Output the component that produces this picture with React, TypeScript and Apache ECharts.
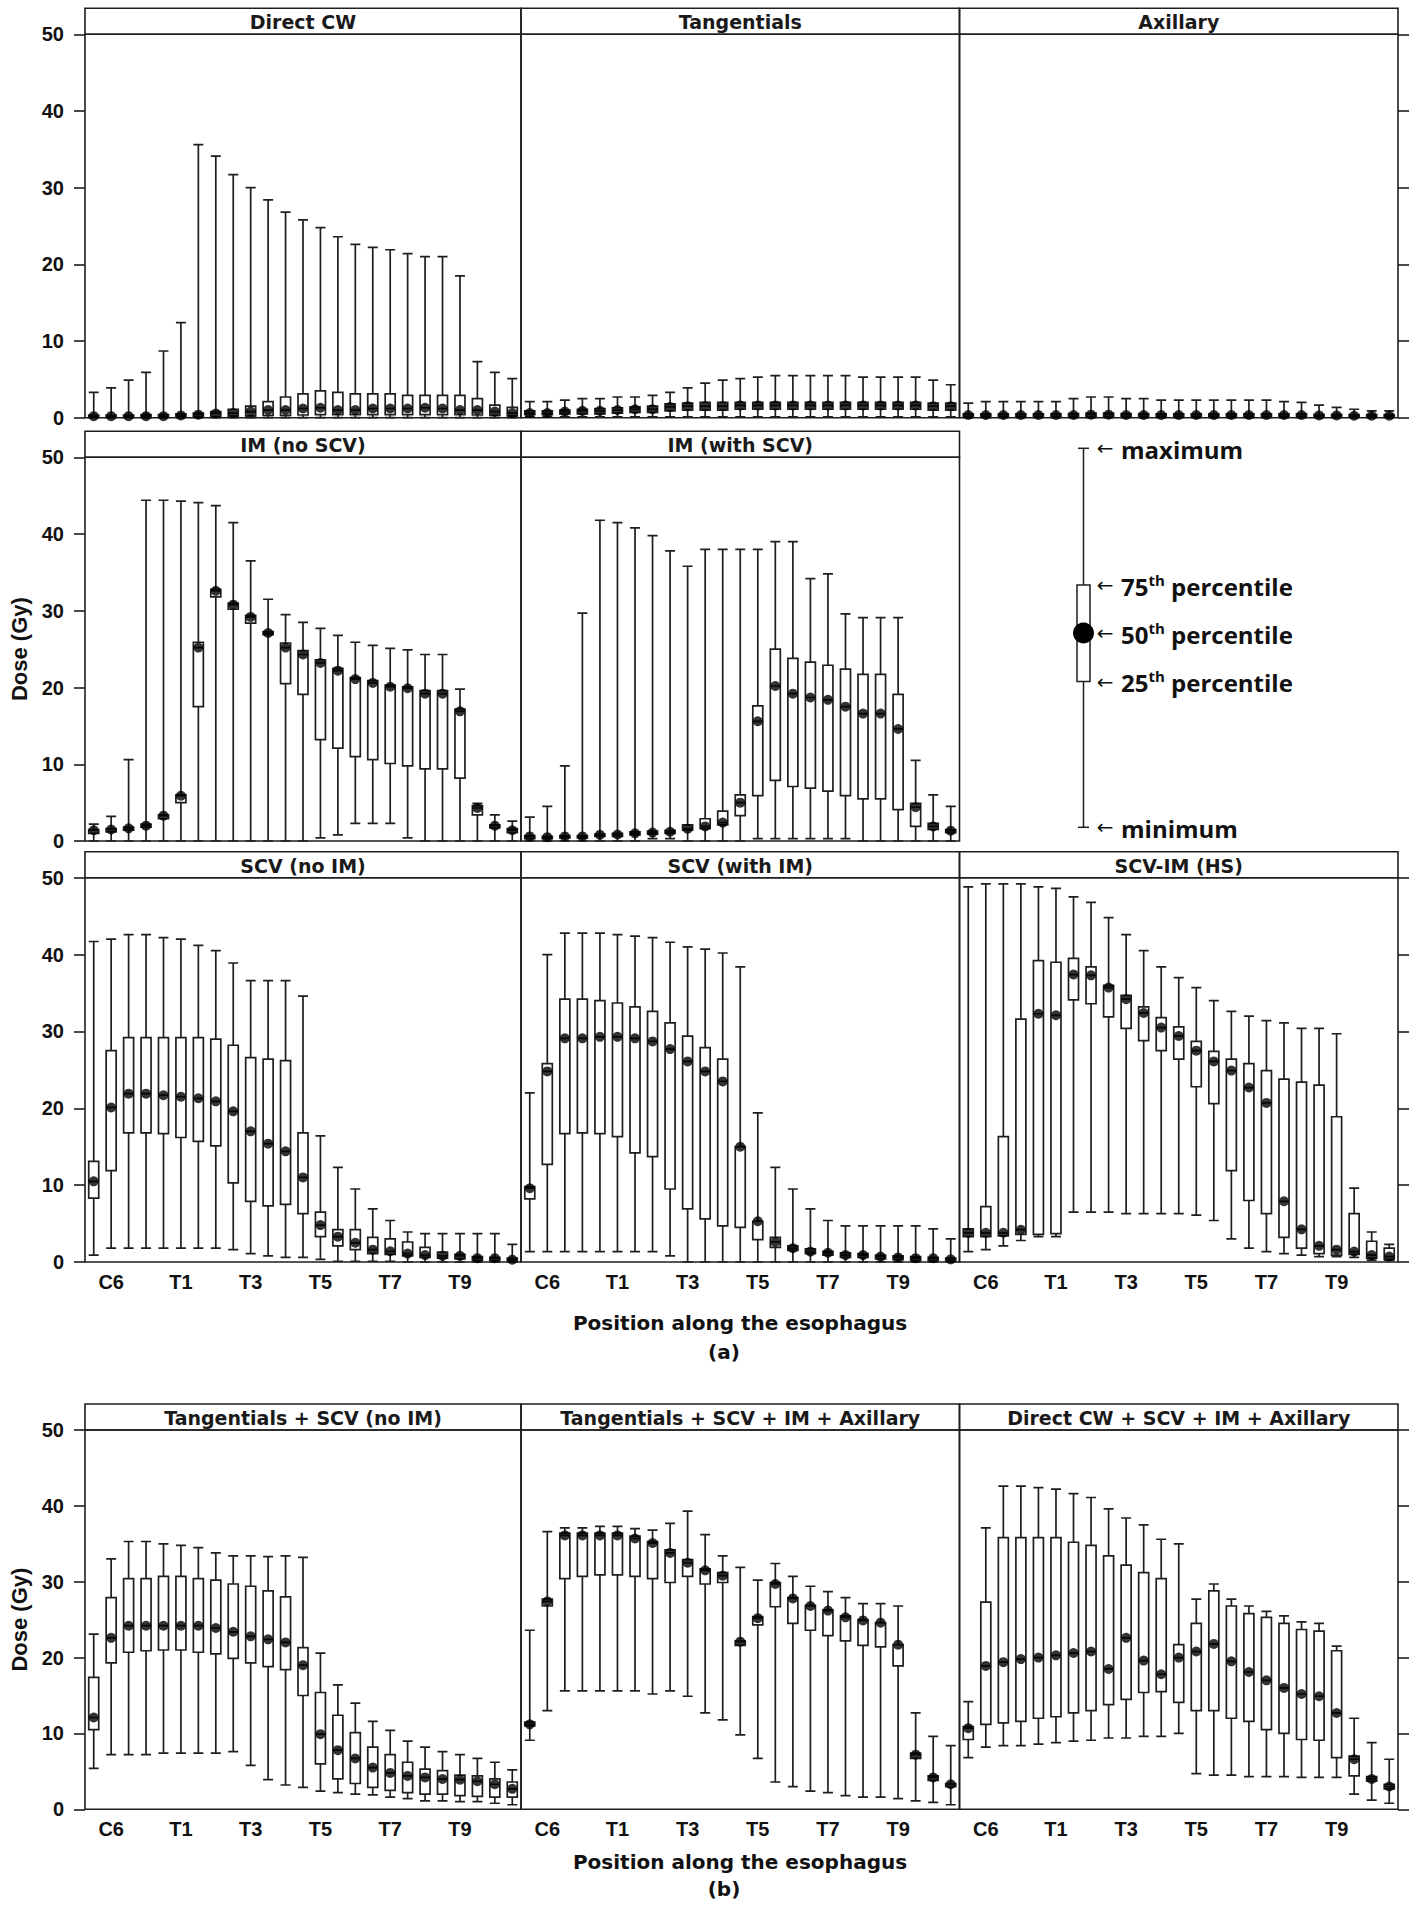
import React, { useEffect, useRef } from 'react';
import * as echarts from 'echarts';

// Positions along the esophagus (half-vertebra steps); only some are labelled
const positions = ['C5/C6','C6','C6/C7','C7','C7/T1','T1','T1/T2','T2','T2/T3','T3','T3/T4','T4','T4/T5','T5','T5/T6','T6','T6/T7','T7','T7/T8','T8','T8/T9','T9','T9/T10','T10','T10/T11'];
const labelledPositions = ['C6','T1','T3','T5','T7','T9'];

// each entry: [minimum, 25th, 50th, 75th, maximum] in Gy
const directCW = [
  [0,0.05,0.2,0.35,3.3],[0,0.05,0.2,0.35,3.9],[0,0.05,0.2,0.35,4.9],[0,0.05,0.2,0.4,5.9],[0,0.05,0.2,0.4,8.7],
  [0,0.1,0.3,0.5,12.4],[0,0.1,0.4,0.6,35.6],[0,0.15,0.55,0.8,34.1],[0,0.2,0.6,1.1,31.7],[0,0.25,0.8,1.5,30.0],
  [0,0.3,1.0,2.1,28.4],[0,0.3,1.0,2.7,26.8],[0,0.35,1.2,3.1,25.8],[0,0.4,1.3,3.5,24.8],[0,0.4,1.0,3.3,23.6],
  [0,0.4,1.0,3.1,22.6],[0,0.4,1.2,3.1,22.2],[0,0.4,1.2,3.1,21.9],[0,0.4,1.2,2.9,21.4],[0,0.4,1.3,2.9,21.0],
  [0,0.4,1.2,2.9,21.0],[0,0.4,1.0,2.9,18.5],[0,0.35,1.0,2.5,7.3],[0,0.3,0.8,1.65,5.9],[0,0.25,0.6,1.35,5.1],
];
const tangentials = [
  [0.1,0.4,0.6,0.9,2.1],[0.1,0.4,0.6,0.9,2.1],[0.1,0.5,0.8,1.0,2.3],[0.1,0.5,0.9,1.1,2.5],[0.1,0.5,0.9,1.2,2.5],
  [0.1,0.6,1.0,1.3,2.7],[0.1,0.7,1.1,1.4,2.7],[0.1,0.7,1.1,1.5,2.9],[0.1,0.9,1.4,1.8,3.3],[0.1,1.0,1.5,1.9,3.9],
  [0.1,1.0,1.5,2.0,4.5],[0.1,1.0,1.5,2.0,4.9],[0.1,1.1,1.6,2.0,5.1],[0.1,1.1,1.6,2.0,5.3],[0.1,1.1,1.6,2.0,5.5],
  [0.1,1.1,1.6,2.0,5.5],[0.1,1.1,1.6,2.0,5.5],[0.1,1.1,1.6,2.0,5.5],[0.1,1.1,1.6,2.0,5.5],[0.1,1.1,1.6,2.0,5.3],
  [0.1,1.1,1.6,2.0,5.3],[0.1,1.1,1.6,2.0,5.3],[0.1,1.1,1.6,2.0,5.3],[0.1,1.0,1.5,1.9,4.9],[0.1,1.0,1.5,1.9,4.3],
];
const axillary = [
  [0,0.1,0.35,0.5,1.9],[0,0.1,0.35,0.5,2.1],[0,0.1,0.35,0.5,2.1],[0,0.1,0.35,0.5,2.1],[0,0.1,0.35,0.5,2.1],
  [0,0.1,0.35,0.5,2.1],[0,0.1,0.35,0.55,2.5],[0,0.1,0.4,0.6,2.7],[0,0.1,0.4,0.6,2.7],[0,0.1,0.35,0.55,2.5],
  [0,0.1,0.35,0.55,2.5],[0,0.1,0.35,0.5,2.3],[0,0.1,0.35,0.5,2.3],[0,0.1,0.35,0.5,2.3],[0,0.1,0.35,0.5,2.3],
  [0,0.1,0.35,0.5,2.3],[0,0.1,0.35,0.5,2.3],[0,0.1,0.35,0.5,2.3],[0,0.1,0.35,0.5,2.1],[0,0.1,0.35,0.5,2.0],
  [0,0.1,0.3,0.45,1.65],[0,0.1,0.3,0.45,1.35],[0,0.1,0.25,0.4,1.1],[0,0.1,0.25,0.4,0.9],[0,0.1,0.25,0.4,0.9],
];
const imNoScv = [
  [0,1.0,1.4,1.5,2.2],[0,1.2,1.5,1.6,3.2],[0,1.4,1.65,1.8,10.6],[0,1.8,2.0,2.2,44.4],[0,2.9,3.3,3.4,44.4],
  [0,5.0,5.9,6.0,44.3],[0,17.5,25.2,25.9,44.1],[0,31.8,32.6,32.8,43.7],[0,30.2,30.8,31.0,41.5],[0,28.4,29.2,29.4,36.5],
  [0,26.9,27.1,27.3,31.5],[0,20.5,25.2,25.8,29.5],[0,19.1,24.3,24.8,28.5],[0.4,13.2,23.2,23.6,27.7],[0.8,12.1,22.2,22.5,26.8],
  [2.3,11.0,21.1,21.3,25.9],[2.3,10.6,20.6,20.9,25.5],[2.3,10.1,20.1,20.3,25.1],[0.4,9.8,19.9,20.1,24.9],[0,9.4,19.2,19.6,24.3],
  [0,9.4,19.2,19.6,24.3],[0,8.2,16.9,17.2,19.8],[0,3.4,4.3,4.6,4.9],[0,1.7,2.0,2.1,3.4],[0,1.1,1.4,1.6,2.6],
];
const imWithScv = [
  [0,0.3,0.6,0.7,3.1],[0,0.3,0.5,0.6,4.5],[0,0.4,0.6,0.7,9.8],[0,0.4,0.6,0.7,29.7],[0,0.6,0.8,0.9,41.8],
  [0,0.6,0.85,1.0,41.5],[0,0.8,1.0,1.2,40.8],[0.3,0.9,1.1,1.3,39.8],[0.3,1.0,1.2,1.4,37.8],[0,1.4,1.6,2.1,35.8],
  [0,1.6,1.9,2.9,38.0],[0,2.1,2.4,3.9,38.0],[0,3.3,5.0,6.0,38.0],[0.3,5.9,15.6,17.6,38.0],[0.3,7.9,20.2,25.0,39.0],
  [0.3,7.1,19.2,23.8,39.0],[0.3,6.9,18.7,23.3,34.2],[0.3,6.5,18.4,22.9,34.8],[0.3,5.9,17.5,22.4,29.6],[0,5.5,16.6,21.7,29.1],
  [0,5.5,16.6,21.7,29.1],[0,4.1,14.6,19.1,29.1],[0,1.9,4.4,4.9,10.5],[0,1.5,1.9,2.3,6.0],[0,1.1,1.35,1.5,4.5],
];
const scvNoIm = [
  [0.9,8.3,10.5,13.1,41.7],[1.8,11.9,20.1,27.5,42.0],[1.8,16.8,21.9,29.2,42.6],[1.8,16.8,21.9,29.2,42.6],[1.8,16.7,21.7,29.2,42.2],
  [1.8,16.2,21.5,29.2,42.0],[1.8,15.7,21.3,29.2,41.2],[1.8,15.1,20.9,29.0,40.5],[1.6,10.3,19.6,28.2,38.9],[1.1,7.9,17.0,26.6,36.6],
  [0.8,7.3,15.4,26.4,36.6],[0.6,7.5,14.4,26.2,36.6],[0.6,6.3,11.0,16.8,34.6],[0.35,3.3,4.8,6.5,16.4],[0.1,2.1,3.3,4.2,12.3],
  [0.1,1.6,2.5,4.2,9.5],[0.1,1.1,1.6,3.2,6.9],[0.1,1.0,1.4,3.0,5.4],[0,0.8,1.1,2.6,3.9],[0,0.6,0.9,1.9,3.7],
  [0,0.5,0.8,1.3,3.7],[0,0.4,0.8,1.0,3.7],[0,0.2,0.5,0.7,3.7],[0,0.2,0.5,0.6,3.7],[0,0.1,0.3,0.5,2.3],
];
const scvWithIm = [
  [1.35,8.2,9.6,9.8,22.0],[1.35,12.7,24.8,25.8,40.0],[1.35,16.7,29.1,34.2,42.8],[1.35,16.8,29.1,34.2,42.8],[1.35,16.7,29.3,34.0,42.8],
  [1.35,16.3,29.3,33.7,42.6],[1.35,14.2,29.1,33.2,42.4],[1.35,13.7,28.7,32.6,42.2],[0.8,9.5,27.7,31.1,41.6],[0,6.9,26.1,29.4,41.0],
  [0,5.6,24.8,27.9,40.7],[0,4.7,23.5,26.4,40.2],[0,4.5,15.0,15.0,38.4],[0,2.9,5.3,5.3,19.4],[0,1.9,2.6,3.2,12.3],
  [0,1.5,1.8,2.1,9.5],[0,1.1,1.35,1.7,6.9],[0,0.9,1.2,1.4,5.4],[0,0.6,0.9,1.2,4.7],[0,0.6,0.9,1.1,4.7],
  [0,0.4,0.7,0.9,4.7],[0,0.3,0.6,0.8,4.7],[0,0.2,0.5,0.7,4.7],[0,0.2,0.5,0.6,4.3],[0,0.1,0.35,0.5,3.0],
];
const scvImHs = [
  [1.35,3.3,3.8,4.3,48.8],[1.6,3.3,3.8,7.2,49.2],[2.1,3.4,3.8,16.3,49.2],[2.8,3.6,4.2,31.6,49.2],[3.3,3.6,32.3,39.2,48.8],
  [3.3,3.7,32.1,39.0,48.6],[6.5,34.1,37.4,39.5,47.5],[6.5,33.6,37.3,38.4,46.8],[6.5,31.9,35.7,36.0,44.8],[6.3,30.4,34.2,34.7,42.6],
  [6.3,28.8,32.4,33.2,40.5],[6.3,27.5,30.5,31.8,38.4],[6.3,26.4,29.4,30.6,37.0],[6.1,22.8,27.5,28.7,35.7],[5.4,20.6,26.1,27.4,34.0],
  [3.0,11.9,24.9,26.4,32.6],[1.8,8.0,22.7,25.8,32.0],[1.35,6.3,20.7,24.9,31.4],[1.1,3.2,7.9,23.8,31.1],[0.9,1.8,4.25,23.4,30.4],
  [0.7,1.1,2.1,23.0,30.4],[0.7,0.9,1.6,18.9,29.7],[0.6,1.0,1.35,6.3,9.6],[0.25,0.5,0.9,2.7,3.9],[0.2,0.35,0.7,1.8,2.3],
];
const tangScvNoIm = [
  [5.4,10.5,12.1,17.4,23.1],[7.2,19.3,22.6,27.9,33.0],[7.2,20.7,24.2,30.4,35.3],[7.2,20.9,24.2,30.4,35.3],[7.4,21.0,24.2,30.7,35.0],
  [7.4,21.0,24.2,30.7,34.8],[7.4,20.7,24.2,30.4,34.5],[7.4,20.5,23.9,30.2,33.8],[7.6,19.9,23.4,29.7,33.4],[5.8,19.3,22.8,29.4,33.4],
  [3.9,18.8,22.4,28.8,33.3],[3.2,18.4,22.0,28.0,33.4],[2.9,15.0,19.0,21.3,33.2],[2.4,6.0,9.9,15.4,20.6],[2.2,4.0,7.8,12.4,16.4],
  [2.0,3.4,6.7,10.1,14.0],[1.9,2.9,5.5,8.2,11.6],[1.6,2.5,4.8,7.2,10.4],[1.4,2.2,4.4,6.2,9.0],[1.1,2.0,4.2,5.3,8.2],
  [1.1,2.0,4.0,5.1,7.6],[1.0,1.8,3.9,4.5,7.2],[1.0,1.7,3.7,4.4,6.7],[0.8,1.6,3.3,4.0,6.2],[0.6,1.6,2.7,3.6,5.2],
];
const tangScvImAx = [
  [9.1,11.0,11.2,11.5,23.6],[13.0,26.8,27.4,27.7,36.6],[15.6,30.4,36.1,36.4,37.1],[15.6,30.7,36.1,36.4,37.1],[15.6,30.9,36.1,36.4,37.3],
  [15.6,30.9,36.1,36.4,37.3],[15.6,30.7,35.7,36.0,37.0],[15.2,30.4,35.1,35.3,36.8],[15.6,29.9,33.8,34.2,37.7],[14.9,30.7,32.5,32.9,39.3],
  [12.7,29.7,31.5,31.7,36.2],[11.8,29.9,30.8,31.2,33.4],[9.8,21.6,22.1,22.2,31.9],[6.7,24.3,25.2,25.4,30.2],[3.6,26.7,29.7,29.9,32.4],
  [3.0,24.5,27.8,27.9,30.7],[2.4,23.6,26.8,26.9,29.4],[2.2,22.9,26.2,26.3,28.7],[1.8,22.2,25.3,25.5,27.9],[1.6,21.6,24.9,25.0,27.1],
  [1.6,21.4,24.6,24.6,27.1],[1.4,18.9,21.7,21.7,26.8],[1.1,6.7,7.2,7.4,12.7],[0.9,3.8,4.2,4.4,9.6],[0.6,3.0,3.3,3.4,8.4],
];
const directScvImAx = [
  [6.8,9.2,10.7,10.9,14.2],[8.2,11.2,18.9,27.3,37.1],[8.4,11.4,19.4,35.8,42.6],[8.4,11.6,19.8,35.8,42.6],[8.6,12.0,20.0,35.8,42.4],
  [8.8,12.2,20.3,35.8,42.2],[9.0,12.7,20.6,35.2,41.6],[9.1,13.0,20.8,34.8,41.1],[9.4,13.8,18.5,33.4,39.6],[9.4,14.5,22.6,32.2,38.4],
  [9.6,15.4,19.6,31.2,37.5],[9.6,15.5,17.8,30.4,35.6],[10.0,14.1,20.0,21.7,35.0],[4.7,13.0,20.8,24.5,27.7],[4.5,13.0,21.8,28.8,29.7],
  [4.5,12.0,19.5,26.8,27.7],[4.3,11.6,18.1,25.8,26.8],[4.3,10.5,17.0,25.3,26.1],[4.3,10.0,16.0,24.5,25.5],[4.2,9.2,15.2,23.7,24.7],
  [4.2,9.1,14.9,23.5,24.5],[4.2,6.8,12.7,20.9,21.5],[2.0,4.4,6.6,7.0,12.0],[1.2,3.7,4.0,4.3,8.8],[0.8,2.7,3.0,3.3,6.6],
];

const panelTitles = [
  'Direct CW','Tangentials','Axillary',
  'IM (no SCV)','IM (with SCV)',
  'SCV (no IM)','SCV (with IM)','SCV-IM (HS)',
  'Tangentials + SCV (no IM)','Tangentials + SCV + IM + Axillary','Direct CW + SCV + IM + Axillary',
];
const panelData = [directCW, tangentials, axillary, imNoScv, imWithScv, scvNoIm, scvWithIm, scvImHs, tangScvNoIm, tangScvImAx, directScvImAx];
const legendLabels = ['maximum', '75', '50', '25', 'minimum'];

// layout
const panelRow = [0,0,0,1,1,2,2,2,3,3,3];
const panelCol = [0,1,2,0,1,0,1,2,0,1,2];
const rowTop = [34.3, 457.3, 877.7, 1430];
const rowHeight = [383.4, 383.7, 384.3, 379.3];
const colLeft = [85, 521, 959.5];
const colWidth = [436, 438.5, 438.5];
const STRIP = 26;
const INK = '#1e1e1e';
const AXIS_FONT = 'Liberation Sans, Arial, sans-serif';
const TITLE_FONT = 'DejaVu Sans, Verdana, sans-serif';
const LEGEND_FONT = 'Open Sans, Noto Sans, sans-serif';

export default function App() {
  const ref = useRef<HTMLDivElement>(null);
  useEffect(() => {
    if (!ref.current) return;
    const chart = echarts.init(ref.current, undefined, { renderer: 'svg' });
    const grids: any[] = [];
    const xAxes: any[] = [];
    const yAxes: any[] = [];
    const series: any[] = [];
    const graphic: any[] = [];

    panelData.forEach((data, k) => {
      const r = panelRow[k];
      const c = panelCol[k];
      const left = colLeft[c];
      const top = rowTop[r];
      const width = colWidth[c];
      const height = rowHeight[r];
      grids.push({ left, top, width, height, show: true, borderColor: INK, borderWidth: 1.6, backgroundColor: 'transparent', containLabel: false });
      xAxes.push({
        type: 'category', gridIndex: k, data: positions, boundaryGap: true,
        axisLine: { show: false }, axisTick: { show: false }, splitLine: { show: false },
        axisLabel: {
          show: r >= 2, interval: (_i: number, v: string) => labelledPositions.includes(v),
          fontFamily: AXIS_FONT, fontWeight: 'bold', fontSize: 20, color: '#111', margin: 10,
        },
      });
      yAxes.push({
        type: 'value', gridIndex: k, min: 0, max: 50, interval: 10,
        position: c === 2 ? 'right' : 'left',
        axisLine: { show: false }, splitLine: { show: false },
        axisTick: { show: c === 0 || c === 2, length: 11, lineStyle: { color: INK, width: 1.6 } },
        axisLabel: { show: c === 0, fontFamily: AXIS_FONT, fontWeight: 'bold', fontSize: 20, color: '#111', margin: 21 },
      });
      series.push({
        type: 'boxplot', xAxisIndex: k, yAxisIndex: k, layout: 'horizontal', data,
        boxWidth: [10, 10], silent: true, emphasis: { disabled: true },
        itemStyle: { color: '#fff', borderColor: INK, borderWidth: 1.7 },
      });
      series.push({
        type: 'scatter', xAxisIndex: k, yAxisIndex: k, data: data.map((d) => d[2]),
        symbol: 'circle', symbolSize: 10, silent: true, z: 4,
        itemStyle: { color: '#000' },
      });
      graphic.push({
        type: 'rect', silent: true,
        shape: { x: left, y: top - STRIP, width, height: STRIP },
        style: { fill: 'none', stroke: INK, lineWidth: 1.6 },
      });
      graphic.push({
        type: 'text', silent: true, x: left + width / 2, y: top - STRIP / 2 + 1,
        style: { text: panelTitles[k], fontFamily: TITLE_FONT, fontWeight: 'bold', fontSize: 19, fill: '#1a1a1a', align: 'center', verticalAlign: 'middle' },
      });
    });

    // y axis names
    [rowTop[1] + rowHeight[1] / 2, rowTop[3] + rowHeight[3] / 2].forEach((cy) => {
      graphic.push({
        type: 'text', silent: true, x: 19, y: cy, rotation: Math.PI / 2,
        style: { text: 'Dose (Gy)', fontFamily: AXIS_FONT, fontWeight: 'bold', fontSize: 22, fill: '#111', align: 'center', verticalAlign: 'middle' },
      });
    });
    // x axis titles
    [[1323, 1352, '(a)'], [1862, 1889, '(b)']].forEach(([ty, ly, lab]) => {
      graphic.push({
        type: 'text', silent: true, x: 740, y: ty as number,
        style: { text: 'Position along the esophagus', fontFamily: TITLE_FONT, fontWeight: 'bold', fontSize: 20, fill: '#111', align: 'center', verticalAlign: 'middle' },
      });
      graphic.push({
        type: 'text', silent: true, x: 724, y: ly as number,
        style: { text: lab as string, fontFamily: TITLE_FONT, fontWeight: 'bold', fontSize: 20, fill: '#111', align: 'center', verticalAlign: 'middle' },
      });
    });

    // key (legend) for the box-and-whisker symbols
    const lx = 1083.5;
    const yMax = 448.3, yQ3 = 585, yMed = 633, yQ1 = 681.5, yMin = 827.3;
    graphic.push({ type: 'line', silent: true, shape: { x1: lx, y1: yMax, x2: lx, y2: yMin }, style: { stroke: INK, lineWidth: 1.5 } });
    graphic.push({ type: 'line', silent: true, shape: { x1: lx - 5.5, y1: yMax, x2: lx + 5.5, y2: yMax }, style: { stroke: INK, lineWidth: 1.5 } });
    graphic.push({ type: 'line', silent: true, shape: { x1: lx - 5.5, y1: yMin, x2: lx + 5.5, y2: yMin }, style: { stroke: INK, lineWidth: 1.5 } });
    graphic.push({ type: 'rect', silent: true, shape: { x: lx - 6.5, y: yQ3, width: 13, height: yQ1 - yQ3 }, style: { fill: '#fff', stroke: INK, lineWidth: 1.5 } });
    graphic.push({ type: 'circle', silent: true, shape: { cx: lx, cy: yMed, r: 10.5 }, style: { fill: '#000' } });
    const keyY = [yMax, yQ3, yMed, yQ1, yMin];
    legendLabels.forEach((lab, i) => {
      const y = keyY[i];
      graphic.push({
        type: 'text', silent: true, x: 1105, y: y,
        style: { text: '←', fontFamily: 'DejaVu Sans', fontSize: 20, fill: '#111', align: 'center', verticalAlign: 'middle' },
      });
      const isPct = i >= 1 && i <= 3;
      graphic.push({
        type: 'text', silent: true, x: 1121, y: y + 1,
        style: isPct
          ? {
              text: `{n|${lab}}{s|th}{n| percentile}`, align: 'left', verticalAlign: 'middle',
              rich: {
                n: { fontFamily: LEGEND_FONT, fontWeight: 'bold', fontSize: 24, fill: '#111', lineHeight: 28 },
                s: { fontFamily: LEGEND_FONT, fontWeight: 'bold', fontSize: 15, fill: '#111', verticalAlign: 'top', lineHeight: 18 },
              },
            }
          : { text: lab, fontFamily: LEGEND_FONT, fontWeight: 'bold', fontSize: 24, fill: '#111', align: 'left', verticalAlign: 'middle' },
      });
    });

    chart.setOption({
      animation: false,
      backgroundColor: '#fff',
      grid: grids,
      xAxis: xAxes,
      yAxis: yAxes,
      series,
      graphic,
    });
    return () => chart.dispose();
  }, []);
  return <div ref={ref} style={{ position: 'absolute', left: 0, top: 0, width: 1415, height: 1920 }} />;
}
